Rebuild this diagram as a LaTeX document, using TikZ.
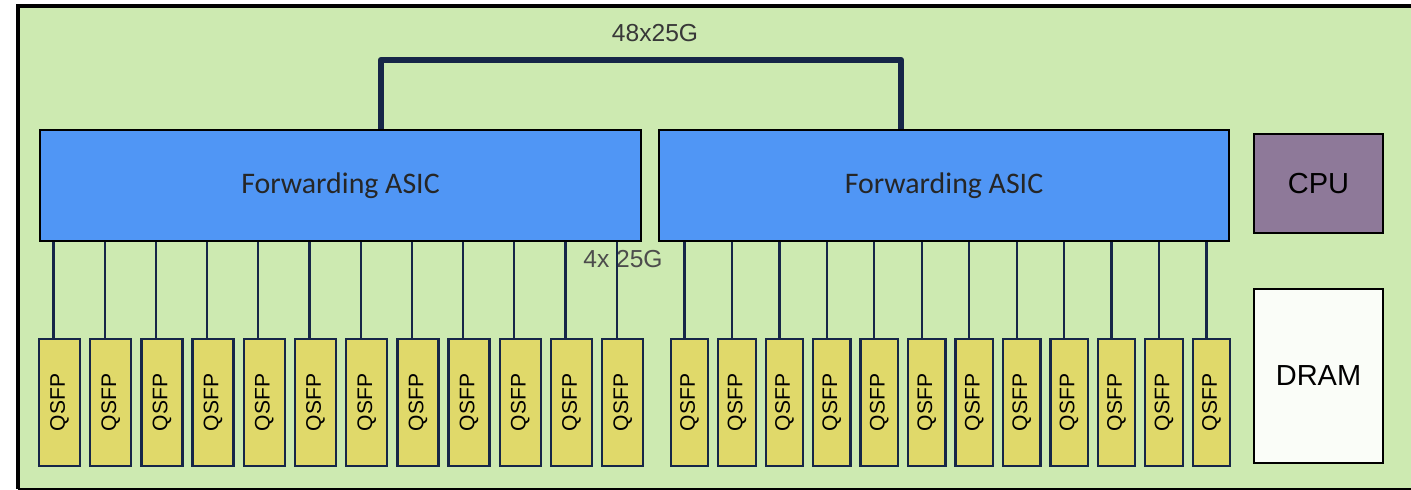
\documentclass[tikz,border=0pt]{standalone}
\usepackage{fontspec}
\usepackage{graphicx}
\setmainfont{Liberation Sans}
\newfontfamily\calibfont{Carlito}
\usetikzlibrary{positioning}
\definecolor{boardgreen}{RGB}{205,234,177}
\definecolor{asicblue}{RGB}{80,150,245}
\definecolor{cpupurple}{RGB}{142,121,153}
\definecolor{qsfpyellow}{RGB}{224,217,106}
\definecolor{navy}{RGB}{22,38,72}
\definecolor{dramwhite}{RGB}{250,253,248}

\begin{document}
\begin{tikzpicture}[
  x=0.02cm, y=-0.02cm,
  blk/.style={rectangle, draw=black, line width=1.2pt, inner sep=0pt, align=center},
  asic/.style={blk, fill=asicblue, minimum height=2.22cm,
               font=\calibfont\fontsize{17}{20}\selectfont, text=black!85},
  chip/.style={blk, fill=cpupurple, minimum width=2.58cm, minimum height=1.98cm,
               font=\fontsize{16.5}{19}\selectfont},
  mem/.style={chip, fill=dramwhite, minimum height=3.48cm},
  qsfp/.style={rectangle, draw=navy, line width=1.3pt, fill=qsfpyellow,
               minimum height=2.54cm, inner sep=0pt, font=\fontsize{12}{14}\selectfont},
  link/.style={draw=navy, line width=1.3pt},
  trunk/.style={draw=navy, line width=3.6pt, line join=round},
  lbl/.style={font=\fontsize{14}{16}\selectfont, text=black!70}
]
\fill[white] (0,0) rectangle (1411,490);
\useasboundingbox (0,0) rectangle (1411,490);
\fill[boardgreen] (18,6) rectangle (1411,489);
\draw[line width=0.08cm] (18,489) -- (18,6) -- (1411,6);
\draw[line width=0.6pt] (18,489) -- (1411,489);

\node[asic, minimum width=12.02cm] (asicL) at (340.5,185.5) {Forwarding ASIC};
\node[asic, minimum width=11.4cm]  (asicR) at (944,185.5) {Forwarding ASIC};
\node[chip] (cpu)  at (1318.5,183.5) {CPU};
\node[mem]  (dram) at (1318.5,376) {DRAM};

\node[lbl] (lane) at (623,259) {4x 25G};

\foreach \i in {0,...,11}{
  \node[qsfp, minimum width=0.82cm] (ql\i) at (59.5+51.2*\i,402.5) {\rotatebox{90}{QSFP}};
  \draw[link] ([xshift=-1.2mm]ql\i.north) -- ([xshift=-1.2mm]ql\i.north |- asicL.south);
  \node[qsfp, minimum width=0.75cm] (qr\i) at (689.5+47.45*\i,402.5) {\rotatebox{90}{QSFP}};
  \draw[link] ([xshift=-1.0mm]qr\i.north) -- ([xshift=-1.0mm]qr\i.north |- asicR.south);
}

\coordinate (bus) at (641,60);
\draw[trunk] ([xshift=8.1mm]asicL.north) |- (bus) -| ([xshift=-8.6mm]asicR.north);
\node[lbl, text=black!78] (agg) at (655,33) {48x25G};
\end{tikzpicture}
\end{document}
